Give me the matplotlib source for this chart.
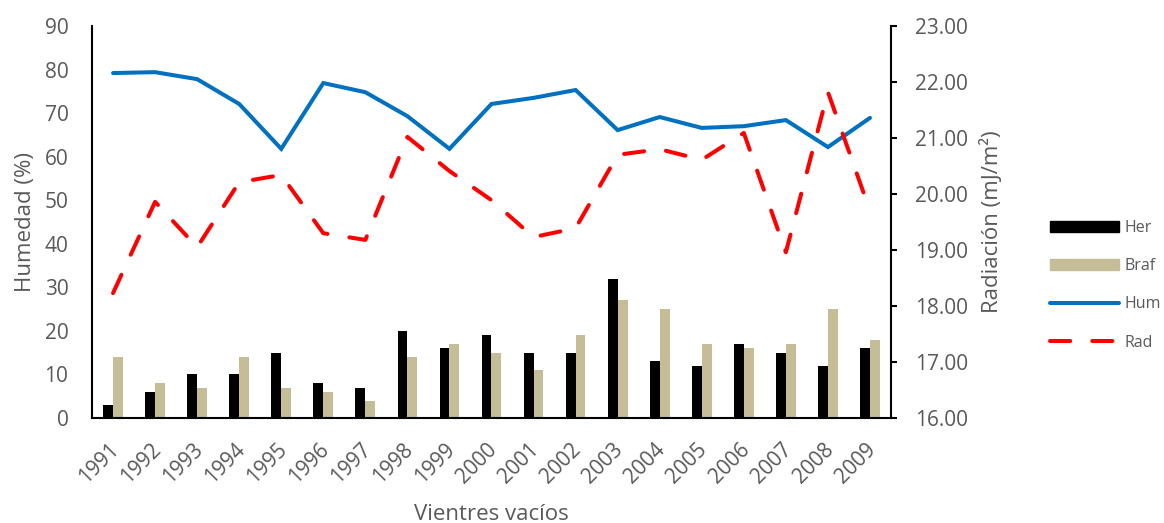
import numpy as np
import matplotlib
matplotlib.use("Agg")
import matplotlib.pyplot as plt
from matplotlib.patches import Patch
from matplotlib.lines import Line2D
from matplotlib.transforms import ScaledTranslation

years = [str(y) for y in range(1991, 2010)]
her = [3, 6, 10, 10, 15, 8, 7, 20, 16, 19, 15, 15, 32, 13, 12, 17, 15, 12, 16]
braf = [14, 8, 7, 14, 7, 6, 4, 14, 17, 15, 11, 19, 27, 25, 17, 16, 17, 25, 18]
hum = [79.2, 79.4, 77.8, 72.1, 61.8, 76.9, 74.8, 69.3, 61.8, 72.1,
       73.5, 75.3, 66.1, 69.1, 66.6, 67.0, 68.4, 62.2, 68.9]
rad = [18.23, 19.86, 19.05, 20.21, 20.34, 19.30, 19.18, 21.02, 20.41, 19.89,
       19.23, 19.39, 20.70, 20.80, 20.61, 21.09, 18.96, 21.82, 19.70]

grey = '#595959'
plt.rcParams['font.family'] = ['Open Sans', 'DejaVu Sans']

fig = plt.figure(figsize=(11.64, 5.23), dpi=100)
ax = fig.add_axes([92 / 1164, 105 / 523, 799 / 1164, 392 / 523])
ax2 = ax.twinx()

x = np.arange(len(years))
w = 0.235
ax.bar(x - w / 2, her, w, color='black', zorder=2)
ax.bar(x + w / 2, braf, w, color='#C4BD97', zorder=2)
ax.plot(x, hum, color='#0070C0', lw=2.9, solid_capstyle='round', solid_joinstyle='miter', zorder=3)
ax2.plot(x, rad, color='#FF0000', lw=2.9, dashes=(5, 5.5), dash_capstyle='round', zorder=3)

ax.set_xlim(-0.5, len(years) - 0.5)
ax.set_ylim(0, 90)
ax.set_yticks(range(0, 91, 10))
ax2.set_ylim(16, 23)
ax2.set_yticks(range(16, 24))
ax2.set_yticklabels([f'{v:.2f}' for v in range(16, 24)])

for a in (ax, ax2):
    a.spines['top'].set_visible(False)
    for s in a.spines.values():
        s.set_linewidth(1.5)
        s.set_color('black')
ax.spines['right'].set_visible(False)
ax2.spines['left'].set_visible(False)
ax2.spines['bottom'].set_visible(False)

ax.tick_params(axis='y', length=0, labelsize=15, labelcolor=grey, pad=17)
ax.tick_params(axis='x', length=0, labelsize=15, labelcolor=grey, pad=10)
ax2.tick_params(axis='y', length=4.5, width=1.5, labelsize=15, labelcolor=grey, pad=13)

ax.set_xticks(x)
ax.set_xticklabels(years, rotation=45, ha='right', rotation_mode='anchor')
# nudge the rotated labels a bit left and down (after tick_params, which resets transforms)
shift = ScaledTranslation(-5 / 100, -7 / 100, fig.dpi_scale_trans)
for lab in ax.get_xticklabels():
    lab.set_transform(lab.get_transform() + shift)

ax.set_ylabel('Humedad (%)', fontsize=16, color=grey, labelpad=6)
ax2.set_ylabel('Radiación (mJ/m²)', fontsize=16, color=grey, labelpad=8)
ax.set_xlabel('Vientres vacíos', fontsize=16, color=grey, labelpad=12)

handles = [Patch(color='black'), Patch(color='#C4BD97'),
           Line2D([], [], color='#0070C0', lw=2.9, solid_capstyle='round'),
           Line2D([], [], color='#FF0000', lw=2.9, dashes=(5, 5.5), dash_capstyle='round')]
fig.legend(handles, ['Her', 'Braf', 'Hum', 'Rad'], loc='upper left',
           bbox_to_anchor=(1044 / 1164, 1 - 214 / 523), frameon=False,
           fontsize=11.5, labelcolor=grey, handlelength=4.3, handletextpad=0.35,
           labelspacing=1.38, borderaxespad=0)

fig.savefig('out.png', dpi=100)
